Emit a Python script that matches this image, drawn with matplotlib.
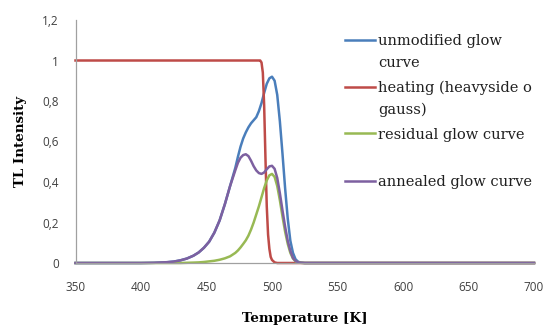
import numpy as np
import matplotlib
matplotlib.use("Agg")
from matplotlib import pyplot as plt
from matplotlib.lines import Line2D


# Temperature grid for the glow curves [K]
temp = [350, 400, 410, 420, 425, 430, 435, 440, 444, 448, 452, 456, 460, 464,
        468, 472, 474, 476, 478, 480, 482, 484, 486, 488, 490, 492, 494, 496, 498,
        500, 502, 504, 506, 508, 510, 512, 514, 516, 518, 520, 522, 525, 530, 550, 700]

unmodified = [0, 0, 0.001, 0.004, 0.007, 0.013, 0.022, 0.036, 0.052, 0.075, 0.105,
              0.15, 0.21, 0.29, 0.38, 0.47, 0.525, 0.575, 0.615, 0.645, 0.67, 0.69,
              0.705, 0.72, 0.75, 0.79, 0.84, 0.885, 0.912, 0.92, 0.9, 0.83, 0.7,
              0.54, 0.37, 0.22, 0.11, 0.05, 0.018, 0.006, 0.002, 0, 0, 0, 0]

residual = [0, 0, 0, 0, 0, 0, 0.001, 0.002, 0.003, 0.005, 0.008, 0.011, 0.016,
            0.023, 0.033, 0.05, 0.062, 0.077, 0.094, 0.112, 0.135, 0.165, 0.2,
            0.24, 0.28, 0.325, 0.37, 0.408, 0.433, 0.44, 0.425, 0.38, 0.31, 0.23,
            0.155, 0.095, 0.05, 0.022, 0.008, 0.003, 0.001, 0, 0, 0, 0]

annealed = [0, 0, 0.001, 0.004, 0.007, 0.013, 0.022, 0.036, 0.052, 0.075, 0.105,
            0.15, 0.21, 0.29, 0.38, 0.458, 0.495, 0.52, 0.533, 0.537, 0.528, 0.505,
            0.478, 0.457, 0.444, 0.44, 0.447, 0.463, 0.477, 0.48, 0.465, 0.42,
            0.345, 0.26, 0.18, 0.11, 0.06, 0.025, 0.01, 0.003, 0.001, 0, 0, 0, 0]

# Heating step has its own, finer grid
heat_temp = [350, 490, 491, 492, 493, 494, 495, 496, 497, 498, 499, 500, 502, 504, 700]
heating = [1, 1, 1, 0.99, 0.94, 0.78, 0.52, 0.28, 0.14, 0.07, 0.03, 0.015, 0.003, 0, 0]

labels = ["unmodified glow\ncurve", "heating (heavyside o\ngauss)",
          "residual glow curve", "annealed glow curve"]
colors = ["#4A7EBB", "#BE4B48", "#98B954", "#7D60A0"]

xticks = [350, 400, 450, 500, 550, 600, 650, 700]
yticks = [0, 0.2, 0.4, 0.6, 0.8, 1, 1.2]
yticklabels = ["0", "0,2", "0,4", "0,6", "0,8", "1", "1,2"]

W, H = 556, 328
fig = plt.figure(figsize=(W / 100, H / 100), dpi=100)
ax = fig.add_axes([75.5 / W, 1 - 263 / H, (534 - 75.5) / W, (263 - 20) / H])

series = [(temp, unmodified), (heat_temp, heating), (temp, residual), (temp, annealed)]
for (x, y), c in zip(series, colors):
    ax.plot(x, y, color=c, lw=1.8, solid_joinstyle="round", clip_on=False)

ax.set_xlim(350, 700)
ax.set_ylim(0, 1.2)
ax.set_xticks(xticks)
ax.set_yticks(yticks)
ax.set_yticklabels(yticklabels)
ax.tick_params(length=0, labelsize=8.5, colors="#404040")
ax.tick_params(axis="x", pad=13)
ax.tick_params(axis="y", pad=12)
for lab in ax.get_xticklabels() + ax.get_yticklabels():
    lab.set_fontfamily("Open Sans")
for s in ["top", "right"]:
    ax.spines[s].set_visible(False)
for s in ["left", "bottom"]:
    ax.spines[s].set_color("#A0A0A0")
    ax.spines[s].set_linewidth(0.9)

ax.set_xlabel("Temperature [K]", fontfamily="DejaVu Serif", fontweight="bold", fontsize=9.6)
ax.set_ylabel("TL Intensity", fontfamily="DejaVu Serif", fontweight="bold", fontsize=9.6)
ax.xaxis.set_label_coords(0.5, -0.203)
ax.yaxis.set_label_coords(-0.105, 0.5)

# Legend drawn by hand on top of the plot area, one text per line
rows = [39.5, 86.5, 133, 180.5]
for lab, c, yp in zip(labels, colors, rows):
    fy = 1 - yp / H
    fig.add_artist(Line2D([345 / W, 375 / W], [fy, fy], color=c, lw=1.8))
    for i, line in enumerate(lab.split("\n")):
        fig.text(378 / W, 1 - (yp + 5.5 + 21.7 * i) / H, line, fontfamily="DejaVu Serif",
                 fontsize=10.5, va="baseline", ha="left", color="#202020")

fig.savefig("out.png", dpi=100)
